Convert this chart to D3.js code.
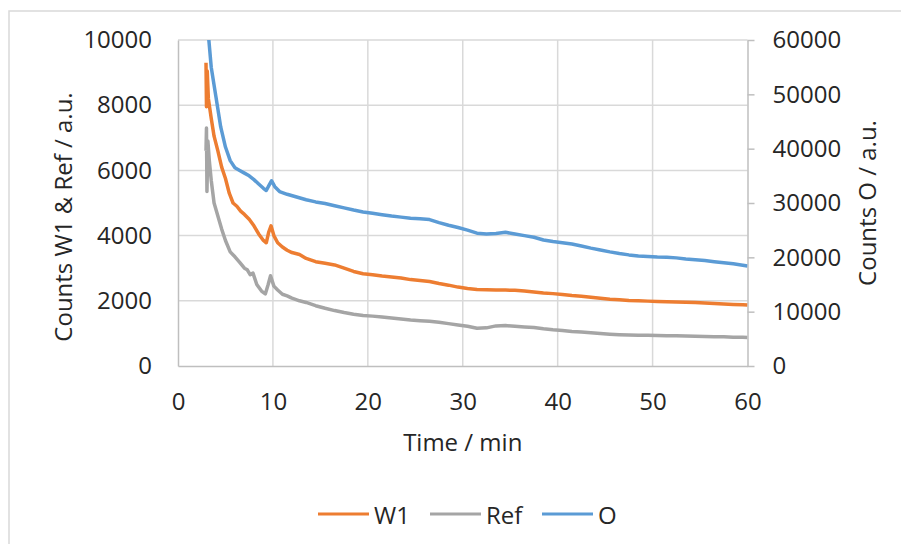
<!DOCTYPE html>
<html>
<head>
<meta charset="utf-8">
<script src="https://cdn.jsdelivr.net/npm/d3@7"></script>
<style>
  html, body { margin: 0; padding: 0; background: #fff; }
  svg { display: block; font-family: "Open Sans", "Noto Sans", sans-serif; }
</style>
</head>
<body>
<svg id="chart" width="901" height="544"></svg>
<script>
// ---------- data ----------
const xTicks = [0, 10, 20, 30, 40, 50, 60];
const leftTicks = [0, 2000, 4000, 6000, 8000, 10000];
const rightTicks = [0, 10000, 20000, 30000, 40000, 50000, 60000];

const seriesNames = ["W1", "Ref", "O"];

const w1Time = [2.95,3.0,3.08,3.2,3.5,3.8,4.2,4.6,5.0,5.4,5.8,6.2,6.6,7.0,7.5,8.0,8.5,9.0,9.3,9.55,9.8,10.1,10.5,11,11.5,12,12.8,13.5,14.5,15.5,16.5,17.5,18.5,19.5,20.5,21.5,22.5,23.5,24.5,25.5,26.5,27.5,28.5,29.5,30.5,31.5,32.5,33.5,34.5,35.5,36.5,37.5,38.5,39.5,40.5,41.5,42.5,43.5,44.5,45.5,46.5,47.5,48.5,49.5,50.5,51.5,52.5,53.5,54.5,55.5,56.5,57.5,58.5,59.5,60];
const w1Counts = [9300,7950,9050,8200,7600,7050,6600,6100,5750,5300,5000,4900,4750,4650,4500,4300,4050,3850,3780,4100,4300,4000,3780,3650,3550,3480,3420,3300,3200,3150,3100,3000,2900,2830,2800,2760,2730,2700,2650,2620,2590,2530,2480,2420,2380,2350,2340,2330,2330,2320,2300,2270,2240,2220,2190,2160,2140,2110,2080,2050,2030,2010,2000,1990,1980,1970,1965,1955,1945,1930,1915,1900,1890,1880,1870];

const refTime = [2.95,3.0,3.05,3.15,3.3,3.5,3.8,4.2,4.6,5.0,5.5,6.0,6.5,7.0,7.3,7.6,7.9,8.3,8.8,9.2,9.5,9.75,10.1,10.5,11,11.5,12,12.8,13.5,14.5,15.5,16.5,17.5,18.5,19.5,20.5,21.5,22.5,23.5,24.5,25.5,26.5,27.5,28.5,29.5,30.5,31.5,32.5,33.5,34.5,35.5,36.5,37.5,38.5,39.5,40.5,41.5,42.5,43.5,44.5,45.5,46.5,47.5,48.5,49.5,50.5,51.5,52.5,53.5,54.5,55.5,56.5,57.5,58.5,59.5,60];
const refCounts = [6600,7300,5350,6900,6300,5700,5000,4600,4200,3850,3500,3350,3180,3000,2950,2800,2850,2500,2300,2210,2500,2770,2450,2330,2200,2150,2080,2000,1950,1850,1770,1700,1640,1590,1550,1530,1500,1470,1440,1410,1390,1370,1340,1300,1260,1220,1160,1170,1230,1240,1220,1200,1180,1140,1110,1090,1060,1040,1020,995,975,960,950,945,940,935,930,925,920,915,905,900,895,885,880,875];

const oTime = [2.95,3.2,3.5,4.0,4.5,5.0,5.5,6.0,6.5,7.0,7.5,8.0,8.5,9.0,9.3,9.6,9.85,10.2,10.7,11.5,12.5,13.5,14.5,15.5,16.5,17.5,18.5,19.5,20.5,21.5,22.5,23.5,24.5,25.5,26.5,27.5,28.5,29.5,30.5,31.5,32.5,33.5,34.5,35.5,36.5,37.5,38.5,39.5,40.5,41.5,42.5,43.5,44.5,45.5,46.5,47.5,48.5,49.5,50.5,51.5,52.5,53.5,54.5,55.5,56.5,57.5,58.5,59.5,60];
const oCounts = [64000,61000,55000,49500,44000,40300,37800,36500,36000,35500,35000,34300,33500,32700,32300,33300,34100,33000,32100,31600,31100,30600,30200,29900,29500,29100,28700,28350,28100,27850,27600,27400,27200,27100,26950,26400,25900,25500,25000,24450,24300,24400,24600,24300,24000,23700,23200,22900,22700,22450,22100,21700,21350,21000,20700,20450,20250,20150,20050,20000,19900,19700,19550,19400,19200,19000,18800,18550,18400];

const colors = { W1: "#ED7D31", Ref: "#A5A5A5", O: "#5B9BD5" };

// ---------- layout ----------
const svg = d3.select("#chart");
const W = 901, H = 544;
const plot = { left: 178, right: 747.5, top: 40, bottom: 366 };
const fontSize = 24;
const textColor = "#262626";

// outer border
svg.append("rect")
  .attr("x", 9).attr("y", 11)
  .attr("width", W + 20).attr("height", H + 20)
  .attr("fill", "#fff").attr("stroke", "#d9d9d9").attr("stroke-width", 1.5);

const x = d3.scaleLinear().domain([0, 60]).range([plot.left, plot.right]);
const yL = d3.scaleLinear().domain([0, 10000]).range([plot.bottom, plot.top]);
const yR = d3.scaleLinear().domain([0, 60000]).range([plot.bottom, plot.top]);

// gridlines
const grid = svg.append("g");
grid.selectAll("line.h").data(leftTicks.filter(d => d > 0)).join("line")
  .attr("x1", plot.left).attr("x2", plot.right)
  .attr("y1", d => yL(d)).attr("y2", d => yL(d))
  .attr("stroke", "#d9d9d9").attr("stroke-width", 1.5);
grid.selectAll("line.v").data(xTicks.filter(d => d > 0 && d < 60)).join("line")
  .attr("y1", plot.top).attr("y2", plot.bottom)
  .attr("x1", d => x(d)).attr("x2", d => x(d))
  .attr("stroke", "#d9d9d9").attr("stroke-width", 1.5);

// axes
function styleAxis(g) {
  g.selectAll("path.domain").attr("stroke", "#bfbfbf").attr("stroke-width", 1.5);
  g.selectAll(".tick line").attr("stroke", "#bfbfbf").attr("stroke-width", 1.5);
  g.selectAll("text").attr("fill", textColor).attr("font-size", fontSize)
    .attr("font-family", '"Open Sans", sans-serif');
}

const gx = svg.append("g")
  .attr("transform", `translate(0,${plot.bottom})`)
  .call(d3.axisBottom(x).tickValues(xTicks).tickFormat(d3.format("d")).tickSize(0).tickPadding(27).tickSizeOuter(0));
styleAxis(gx);

const gl = svg.append("g")
  .attr("transform", `translate(${plot.left},0)`)
  .call(d3.axisLeft(yL).tickValues(leftTicks).tickFormat(d3.format("d")).tickSize(0).tickPadding(26).tickSizeOuter(0));
styleAxis(gl);

const gr = svg.append("g")
  .attr("transform", `translate(${plot.right},0)`)
  .call(d3.axisRight(yR).tickValues(rightTicks).tickFormat(d3.format("d")).tickSize(7).tickPadding(18).tickSizeOuter(0));
styleAxis(gr);

// axis titles
svg.append("text")
  .attr("transform", `translate(62,${(plot.top + plot.bottom) / 2 + 14}) rotate(-90)`)
  .attr("text-anchor", "middle").attr("dominant-baseline", "central")
  .attr("font-size", fontSize).attr("fill", textColor)
  .text("Counts W1 & Ref / a.u.");

svg.append("text")
  .attr("transform", `translate(866,${(plot.top + plot.bottom) / 2}) rotate(-90)`)
  .attr("text-anchor", "middle").attr("dominant-baseline", "central")
  .attr("font-size", fontSize).attr("fill", textColor)
  .text("Counts O / a.u.");

svg.append("text")
  .attr("x", (plot.left + plot.right) / 2).attr("y", 441)
  .attr("text-anchor", "middle").attr("dominant-baseline", "central")
  .attr("font-size", fontSize).attr("fill", textColor)
  .text("Time / min");

// clip
svg.append("clipPath").attr("id", "clip")
  .append("rect").attr("x", plot.left).attr("y", plot.top)
  .attr("width", plot.right - plot.left).attr("height", plot.bottom - plot.top);

const lines = svg.append("g").attr("clip-path", "url(#clip)");
const lineL = d3.line().x(d => x(d[0])).y(d => yL(d[1]));
const lineR = d3.line().x(d => x(d[0])).y(d => yR(d[1]));

const refData = d3.zip(refTime, refCounts);
const w1Data = d3.zip(w1Time, w1Counts);
const oData = d3.zip(oTime, oCounts);

lines.append("path").datum(refData).attr("d", lineL)
  .attr("fill", "none").attr("stroke", colors.Ref).attr("stroke-width", 3.5).attr("stroke-linejoin", "round");
lines.append("path").datum(w1Data).attr("d", lineL)
  .attr("fill", "none").attr("stroke", colors.W1).attr("stroke-width", 3.5).attr("stroke-linejoin", "round");
lines.append("path").datum(oData).attr("d", lineR)
  .attr("fill", "none").attr("stroke", colors.O).attr("stroke-width", 3.5).attr("stroke-linejoin", "round");

// legend
const legendItems = [
  { name: "W1", x1: 318 },
  { name: "Ref", x1: 430 },
  { name: "O", x1: 542 }
];
const lg = svg.append("g");
legendItems.forEach(it => {
  lg.append("line")
    .attr("x1", it.x1).attr("x2", it.x1 + 51)
    .attr("y1", 514).attr("y2", 514)
    .attr("stroke", colors[it.name]).attr("stroke-width", 3);
  lg.append("text")
    .attr("x", it.x1 + 56).attr("y", 514)
    .attr("dominant-baseline", "central")
    .attr("font-size", fontSize).attr("fill", textColor)
    .text(it.name);
});
</script>
</body>
</html>
